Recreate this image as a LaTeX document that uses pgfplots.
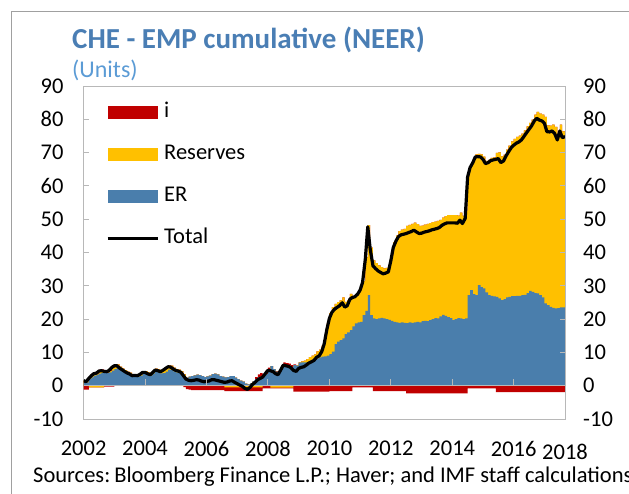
\documentclass[border=0pt]{standalone}
\usepackage{pgfplots}
\pgfplotsset{compat=1.18}
\usepackage{pgfplotstable}
\usepackage{fontspec}
\setmainfont{Carlito}
\definecolor{erblue}{RGB}{74,126,172}
\definecolor{resyellow}{RGB}{255,192,0}
\definecolor{ired}{RGB}{192,0,0}
\definecolor{titleblue}{RGB}{74,126,180}
\definecolor{unitsblue}{RGB}{91,155,213}
\definecolor{axisgray}{RGB}{184,184,184}
\definecolor{framegray}{RGB}{160,160,160}
\pgfplotsset{swatch/.style={legend image code/.code={\fill[##1, draw=none] (0pt,-6.5pt) rectangle (50pt,6.5pt);}}}

\pgfplotstableread{
t B Y R NY NR T
2002.00 1.0 1.5 1.5 0 -1.2 1.5
2002.08 1.0 1.2 1.2 0 -1.2 1.2
2002.17 2.0 2.5 2.5 -0.5 -0.5 2.2
2002.25 2.5 3.4 3.4 -0.5 -0.5 3.0
2002.33 3.0 3.4 4.0 -0.5 -0.5 3.6
2002.42 3.3 3.6 4.2 -0.5 -0.5 3.8
2002.50 3.6 4.2 4.8 -0.5 -0.5 4.4
2002.58 3.8 4.3 4.9 -0.5 -0.5 4.5
2002.67 3.8 4.1 4.7 0 -0.3 4.3
2002.75 3.8 4.0 4.6 0 -0.3 4.2
2002.83 4.0 4.4 5.0 0 -0.3 4.6
2002.92 4.5 5.3 5.9 0 -0.3 5.5
2003.00 5.0 6.4 6.4 0 0 6.0
2003.08 5.3 6.4 6.4 0 0 6.0
2003.17 4.8 5.7 5.7 0 0 5.3
2003.25 4.3 5.2 5.2 0 0 4.8
2003.33 3.8 4.7 4.7 0 0 4.3
2003.42 3.4 4.2 4.2 0 0 3.8
2003.50 3.2 3.9 3.9 0 0 3.5
2003.58 2.8 3.4 3.4 0 0 3.0
2003.67 2.8 3.5 3.5 0 0 3.1
2003.75 2.7 3.4 3.4 0 0 3.0
2003.83 3.0 3.3 3.8 0 0 3.4
2003.92 3.7 3.9 4.4 0 0 4.0
2004.00 3.7 4.4 4.4 0 0 4.0
2004.08 3.3 4.0 4.0 0 0 3.6
2004.17 3.1 3.7 3.7 0 0 3.3
2004.25 3.7 4.4 4.4 0 0 4.0
2004.33 4.2 5.1 5.1 0 0 4.7
2004.42 4.0 4.9 4.9 0 0 4.5
2004.50 3.7 4.6 4.6 0 0 4.2
2004.58 3.8 5.0 5.0 0 0 4.6
2004.67 4.2 5.6 5.6 0 0 5.2
2004.75 4.8 6.1 6.1 0 0 5.7
2004.83 4.8 6.0 6.0 0 0 5.6
2004.92 4.3 5.4 5.4 0 0 5.0
2005.00 4.0 5.0 5.0 0 0 4.6
2005.08 3.8 4.8 4.8 0 0 4.4
2005.17 3.5 4.4 4.4 0 0 4.0
2005.25 2.8 3.4 3.4 0 -0.4 3.0
2005.33 2.4 2.4 2.4 0 -1.0 2.0
2005.42 2.7 2.7 2.7 0 -1.2 1.6
2005.50 2.9 2.9 2.9 0 -1.3 1.5
2005.58 3.1 3.1 3.1 0 -1.3 1.6
2005.67 3.3 3.3 3.3 0 -1.3 1.8
2005.75 3.2 3.2 3.2 0 -1.3 1.7
2005.83 2.9 2.9 2.9 0 -1.3 1.4
2005.92 2.6 2.6 2.6 0 -1.3 1.2
2006.00 2.8 2.8 2.8 0 -1.3 1.3
2006.08 3.0 3.0 3.0 0 -1.3 1.4
2006.17 3.5 3.5 3.5 0 -1.3 1.8
2006.25 3.6 3.6 3.6 0 -1.3 1.8
2006.33 3.4 3.4 3.4 0 -1.3 1.6
2006.42 2.9 2.9 2.9 0 -1.3 1.4
2006.50 2.7 2.7 2.7 0 -1.3 1.2
2006.58 2.5 2.5 2.5 -0.5 -1.6 1.0
2006.67 2.6 2.6 2.6 -0.5 -1.6 1.1
2006.75 2.9 2.9 2.9 -0.5 -1.6 1.4
2006.83 2.9 2.9 2.9 -0.5 -1.6 1.5
2006.92 2.4 2.4 2.4 -0.5 -1.6 1.0
2007.00 2.0 2.0 2.0 -0.5 -1.6 0.6
2007.08 1.5 1.5 1.5 -0.5 -1.6 0.2
2007.17 1.2 1.2 1.2 -0.5 -1.6 -0.2
2007.25 0.6 0.6 0.6 -0.5 -1.6 -0.8
2007.33 0.4 0.4 0.4 -0.5 -1.6 -1.1
2007.42 0.7 0.7 0.7 -0.5 -1.6 -0.5
2007.50 1.4 1.4 1.4 -0.5 -1.6 0.4
2007.58 2.0 2.0 2.6 -0.5 -1.6 1.0
2007.67 2.6 2.6 3.4 -0.5 -1.6 1.8
2007.75 2.7 2.7 3.8 -0.5 -1.6 2.2
2007.83 2.9 2.9 3.4 0 -0.8 2.6
2007.92 3.5 3.5 4.5 0 -0.8 3.7
2008.00 4.6 4.6 5.4 0 -0.8 4.6
2008.08 5.9 5.9 5.9 -0.6 -0.8 4.5
2008.17 5.0 5.0 5.0 -0.6 -0.8 4.2
2008.25 4.2 4.2 4.4 -0.6 -0.8 3.6
2008.33 4.0 4.0 4.1 -0.6 -0.8 3.3
2008.42 5.4 5.4 5.6 -0.6 -0.8 4.8
2008.50 6.5 6.5 7.0 -0.6 -0.8 6.2
2008.58 6.2 6.2 6.8 -0.6 -0.8 6.0
2008.67 6.0 6.0 6.6 -0.6 -0.8 5.8
2008.75 5.6 5.6 6.2 -0.6 -0.8 5.4
2008.83 6.2 6.2 6.4 0 -1.8 4.6
2008.92 6.0 6.1 6.1 0 -1.8 4.3
2009.00 6.9 7.0 7.0 0 -1.8 5.2
2009.08 7.0 7.3 7.3 0 -1.8 5.5
2009.17 7.0 7.5 7.5 0 -1.8 5.7
2009.25 7.0 8.0 8.0 0 -1.8 6.2
2009.33 7.2 8.6 8.6 0 -1.8 6.8
2009.42 7.5 9.0 9.0 0 -1.8 7.2
2009.50 8.0 9.4 9.4 0 -1.8 7.6
2009.58 8.2 10.3 10.3 0 -1.8 8.5
2009.67 8.5 10.8 10.8 0 -1.8 9.0
2009.75 8.7 12.0 12.0 0 -1.8 10.2
2009.83 8.8 14.3 14.3 0 -1.8 12.5
2009.92 9.0 18.8 18.8 0 -1.8 17.0
2010.00 9.5 21.8 21.8 0 -1.6 20.2
2010.08 10.2 23.6 23.6 0 -1.6 22.0
2010.17 12.5 24.6 24.6 0 -1.6 23.0
2010.25 13.2 25.1 25.1 0 -1.6 23.5
2010.33 13.7 25.6 25.6 0 -1.6 24.0
2010.42 14.2 26.5 26.5 0 -1.6 24.9
2010.50 15.5 25.2 25.2 0 -1.6 23.6
2010.58 16.0 25.6 25.6 0 -1.6 24.0
2010.67 16.7 27.6 27.6 0 -1.6 26.0
2010.75 17.8 27.0 27.0 0 -0.5 26.5
2010.83 18.7 27.2 27.2 0 -0.5 26.7
2010.92 19.0 28.0 28.0 0 -0.5 27.5
2011.00 19.2 29.2 29.2 0 -0.5 28.7
2011.08 21.2 31.5 31.5 0 -0.5 31.0
2011.17 22.5 38.5 38.5 0 -0.5 38.0
2011.25 27.2 48.2 48.2 0 -0.5 47.7
2011.33 21.2 41.5 41.5 0 -0.5 41.0
2011.42 20.2 37.6 37.6 0 -1.6 36.0
2011.50 20.0 36.8 36.8 0 -1.6 35.2
2011.58 20.2 36.1 36.1 0 -1.6 34.5
2011.67 20.4 35.6 35.6 0 -1.6 34.0
2011.75 20.2 35.2 35.2 0 -1.6 33.6
2011.83 20.0 35.4 35.4 0 -1.6 33.8
2011.92 19.8 35.8 35.8 0 -1.6 34.2
2012.00 19.5 39.1 39.1 0 -1.6 37.5
2012.08 19.2 43.1 43.1 0 -1.6 41.5
2012.17 19.0 45.1 45.1 0 -1.6 43.5
2012.25 18.9 46.4 46.4 0 -1.6 44.8
2012.33 19.0 46.9 46.9 0 -1.6 45.3
2012.42 18.9 47.1 47.1 0 -1.6 45.5
2012.50 18.8 48.0 48.0 0 -2.3 45.7
2012.58 19.0 48.3 48.3 0 -2.3 46.0
2012.67 18.9 48.6 48.6 0 -2.3 46.3
2012.75 19.0 49.0 49.0 0 -2.3 46.7
2012.83 19.2 48.5 48.5 0 -2.3 46.2
2012.92 19.0 48.0 48.0 0 -2.3 45.7
2013.00 19.4 48.1 48.1 0 -2.3 45.8
2013.08 19.5 48.4 48.4 0 -2.3 46.1
2013.17 19.4 48.6 48.6 0 -2.3 46.3
2013.25 19.7 48.8 48.8 0 -2.3 46.5
2013.33 20.0 49.1 49.1 0 -2.3 46.8
2013.42 20.3 49.3 49.3 0 -2.3 47.0
2013.50 20.2 49.5 49.5 0 -2.3 47.2
2013.58 20.8 49.8 49.8 0 -2.3 47.5
2013.67 21.3 50.5 50.5 0 -2.3 48.2
2013.75 21.0 50.9 50.9 0 -2.3 48.6
2013.83 20.6 51.2 51.2 0 -2.3 48.9
2013.92 20.3 51.2 51.2 0 -2.3 48.9
2014.00 19.7 51.2 51.2 0 -2.3 48.9
2014.08 20.0 51.2 51.2 0 -2.3 48.9
2014.17 20.3 51.1 51.1 0 -2.3 48.8
2014.25 20.2 52.0 52.0 0 -2.3 49.7
2014.33 20.0 51.0 51.0 0 -2.3 48.7
2014.42 20.2 52.5 52.5 0 -2.3 50.2
2014.50 27.2 63.5 63.5 0 -0.8 62.7
2014.58 28.7 66.3 66.3 0 -0.8 65.5
2014.67 27.5 67.8 67.8 0 -0.8 67.0
2014.75 27.2 69.5 69.5 0 -0.8 68.7
2014.83 30.2 69.6 69.6 0 -0.8 68.8
2014.92 29.6 69.5 69.5 0 -0.8 68.7
2015.00 29.2 68.8 68.8 0 -0.8 68.0
2015.08 28.0 67.5 67.5 0 -0.8 66.7
2015.17 27.2 67.8 67.8 0 -0.8 67.0
2015.25 27.0 68.4 68.4 0 -0.8 67.6
2015.33 26.8 68.6 68.6 0 -0.8 67.8
2015.42 26.7 69.9 69.9 0 -1.9 68.0
2015.50 26.2 70.1 70.1 0 -1.9 68.2
2015.58 25.7 68.9 68.9 0 -1.9 67.0
2015.67 26.0 69.4 69.4 0 -1.9 67.5
2015.75 26.5 70.9 70.9 0 -1.9 69.0
2015.83 26.7 72.1 72.1 0 -1.9 70.2
2015.92 26.9 73.4 73.4 0 -1.9 71.5
2016.00 26.9 74.1 74.1 0 -1.9 72.2
2016.08 27.0 74.7 74.7 0 -1.9 72.8
2016.17 27.0 75.1 75.1 0 -1.9 73.2
2016.25 27.2 75.7 75.7 0 -1.9 73.8
2016.33 27.3 76.7 76.7 0 -1.9 74.8
2016.42 27.8 77.9 77.9 0 -1.9 76.0
2016.50 28.5 78.9 78.9 0 -1.9 77.0
2016.58 28.2 79.9 79.9 0 -1.9 78.0
2016.67 27.8 81.4 81.4 0 -1.9 79.5
2016.75 27.7 82.2 82.2 0 -1.9 80.3
2016.83 27.2 81.7 81.7 0 -1.9 79.8
2016.92 26.5 81.4 81.4 0 -1.9 79.5
2017.00 24.7 80.7 80.7 0 -1.9 78.8
2017.08 24.2 78.2 78.2 0 -1.9 76.3
2017.17 23.7 78.1 78.1 0 -1.9 76.2
2017.25 23.4 78.4 78.4 0 -1.9 76.5
2017.33 23.2 77.7 77.7 0 -1.9 75.8
2017.42 23.3 75.7 75.7 0 -1.9 73.8
2017.50 23.5 78.4 78.4 0 -1.9 76.5
2017.58 23.5 76.4 76.4 0 -1.9 74.5
2017.67 23.5 76.7 76.7 0 -1.9 74.8
}\datatable

\begin{document}
\begin{tikzpicture}
\clip (0pt,0pt) rectangle (629pt,493pt);
\draw[framegray, line width=1pt] (11pt,-2pt) -- (11pt,481pt) -- (640pt,481pt);
\node[anchor=base west, inner sep=0, text=titleblue, font=\bfseries\fontsize{29}{33}\selectfont] at (72pt,444pt) {CHE - EMP cumulative (NEER)};
\node[anchor=base west, inner sep=0, text=unitsblue, font=\fontsize{24}{28}\selectfont] at (72pt,415pt) {(Units)};
\begin{axis}[
  at={(83.6pt,74pt)}, anchor=south west, width=481.4pt, height=333pt, scale only axis,
  xmin=2002, xmax=2017.67, ymin=-10, ymax=90,
  axis line style={axisgray, line width=1pt},
  tick style={axisgray, line width=1pt},
  tick align=inside, major tick length=5pt,
  ytick={-10,0,...,90}, ytick pos=left,
  xtick={2002,2004,...,2016},
  xtick style={draw=none},
  extra x ticks={2017.67}, extra x tick labels={2018},
  extra x tick style={xtick style={draw=none}, xticklabel style={yshift=-3pt}},
  /pgf/number format/assume math mode=true,
  /pgf/number format/1000 sep={},
  ticklabel style={font=\fontsize{22.5}{26}\selectfont, text=black, inner sep=0pt},
  yticklabel shift=20pt,
  xticklabel shift=22pt,
  legend style={at={(rel axis cs:0.0465,0.947)}, anchor=north west, draw=none, fill=none,
    font=\fontsize{22.5}{26}\selectfont, row sep=24pt, inner sep=0pt,
    nodes={inner sep=0pt, text height=14pt, text depth=4pt},
    /tikz/every odd column/.append style={column sep=5pt}},
  legend cell align=left,
]
\addplot[const plot, fill=ired, draw=none, forget plot] table[x=t,y=R] {\datatable} \closedcycle;
\addplot[const plot, fill=resyellow, draw=none, forget plot] table[x=t,y=Y] {\datatable} \closedcycle;
\addplot[const plot, fill=erblue, draw=none, forget plot] table[x=t,y=B] {\datatable} \closedcycle;
\addplot[const plot, fill=ired, draw=none, forget plot] table[x=t,y=NR] {\datatable} \closedcycle;
\addplot[const plot, fill=resyellow, draw=none, forget plot] table[x=t,y=NY] {\datatable} \closedcycle;
\addplot[axisgray, line width=1pt, forget plot] coordinates {(2002,0) (2017.67,0)};
\addplot[black, line width=3.2pt, line join=round, forget plot] table[x=t,y=T] {\datatable};
\pgfplotsinvokeforeach{2004,2006,2008,2010,2012,2014,2016}{
  \draw[axisgray, line width=1pt] (axis cs:#1,0) -- ([yshift=7pt]axis cs:#1,0);
}
\addlegendimage{swatch, fill=ired}
\addlegendentry{i}
\addlegendimage{swatch, fill=resyellow}
\addlegendentry{Reserves}
\addlegendimage{swatch, fill=erblue}
\addlegendentry{ER}
\addlegendimage{legend image code/.code={\draw[black, line width=3pt] (0pt,0pt) -- (50pt,0pt);}}
\addlegendentry{Total}
\end{axis}
\begin{axis}[
  at={(83.6pt,74pt)}, anchor=south west, width=481.4pt, height=333pt, scale only axis,
  xmin=2002, xmax=2017.67, ymin=-10, ymax=90,
  axis x line=none, axis y line*=right,
  axis line style={axisgray, line width=1pt},
  tick style={axisgray, line width=1pt},
  tick align=inside, major tick length=5pt,
  ytick={-10,0,...,90},
  /pgf/number format/assume math mode=true,
  ticklabel style={font=\fontsize{22.5}{26}\selectfont, text=black, inner sep=0pt},
  yticklabel shift=18pt,
]
\addplot[draw=none] coordinates {(2010,0)};
\end{axis}
\node[anchor=base west, inner sep=0, font=\fontsize{22.5}{26}\selectfont] at (33pt,11pt) {Sources:\kern-1pt\ Bloomberg Finance L.P.; Haver; and IMF staff calculations};
\end{tikzpicture}
\end{document}
